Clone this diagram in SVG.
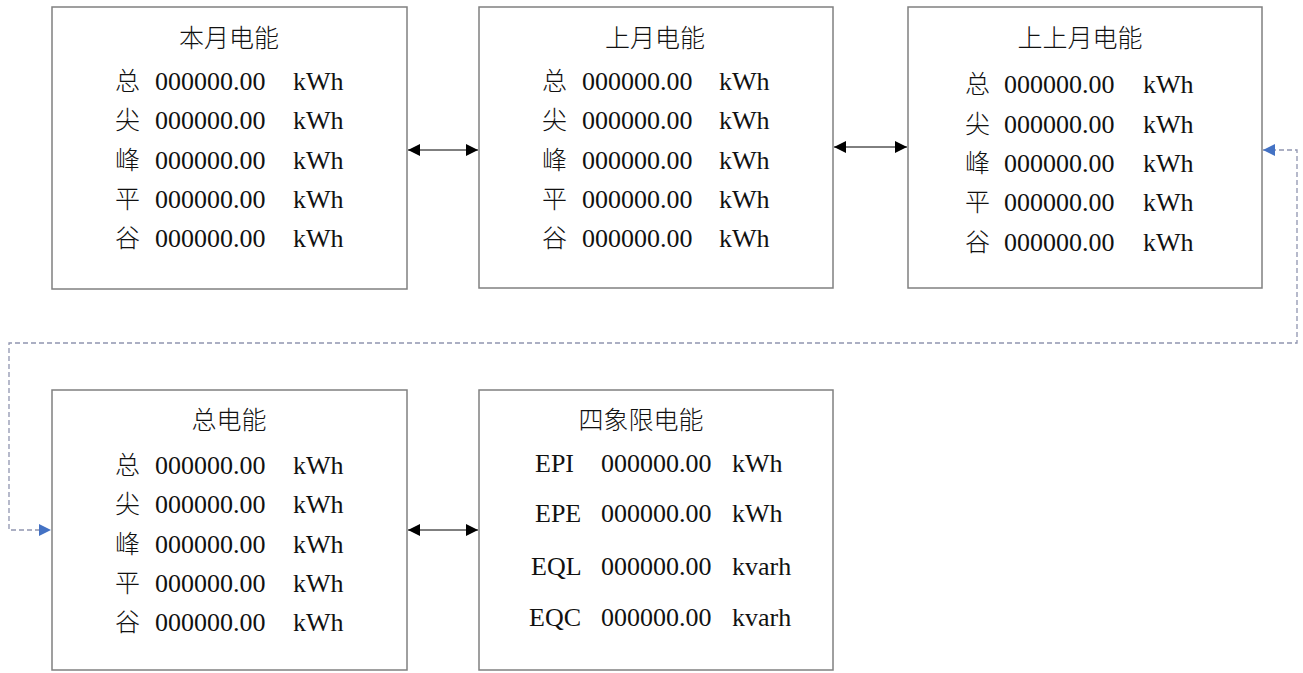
<svg xmlns="http://www.w3.org/2000/svg" width="1303" height="673" viewBox="0 0 1303 673">
<style>
.box{fill:#fff;stroke:#808080;stroke-width:1.5}
.t{font-family:"Liberation Serif","Noto Sans CJK SC",serif;font-size:26px;fill:#111}
.c{font-family:"Noto Sans CJK SC",serif;font-size:25px;font-weight:300;fill:#111}
.ct{font-family:"Noto Sans CJK SC",serif;font-size:25px;font-weight:300;fill:#111;text-anchor:middle}
.ln{fill:none;stroke:#000;stroke-width:1}
.dl{fill:none;stroke:#9095b0;stroke-width:1.3;stroke-dasharray:5,3}
</style>
<defs>
<marker id="ah" viewBox="0 0 12 12" refX="12" refY="6" markerWidth="12" markerHeight="12" markerUnits="userSpaceOnUse" orient="auto-start-reverse"><path d="M0,0 L12,6 L0,12 z" fill="#000"/></marker>
<marker id="bh" viewBox="0 0 12 12" refX="12" refY="6" markerWidth="12" markerHeight="12" markerUnits="userSpaceOnUse" orient="auto-start-reverse"><path d="M0,0 L12,6 L0,12 z" fill="#4472c4"/></marker>
</defs>
<g id="connectors">
<line class="ln" x1="408" y1="150" x2="478" y2="150" marker-start="url(#ah)" marker-end="url(#ah)"/>
<line class="ln" x1="834" y1="147" x2="907" y2="147" marker-start="url(#ah)" marker-end="url(#ah)"/>
<line class="ln" x1="408" y1="530" x2="478" y2="530" marker-start="url(#ah)" marker-end="url(#ah)"/>
<path class="dl" d="M1263,150 L1297,150 L1297,343 L9,343 L9,530 L51,530" marker-start="url(#bh)" marker-end="url(#bh)"/>
</g>
<g id="box1">
<rect class="box" x="52" y="7" width="355" height="282"/>
<text class="ct" x="229" y="47">本月电能</text>
<text class="c" x="115" y="90">总</text><text class="t" x="155" y="90">000000.00</text><text class="t" x="293" y="90">kWh</text>
<text class="c" x="115" y="129">尖</text><text class="t" x="155" y="129">000000.00</text><text class="t" x="293" y="129">kWh</text>
<text class="c" x="115" y="169">峰</text><text class="t" x="155" y="169">000000.00</text><text class="t" x="293" y="169">kWh</text>
<text class="c" x="115" y="208">平</text><text class="t" x="155" y="208">000000.00</text><text class="t" x="293" y="208">kWh</text>
<text class="c" x="115" y="247">谷</text><text class="t" x="155" y="247">000000.00</text><text class="t" x="293" y="247">kWh</text>
</g>
<g id="box2">
<rect class="box" x="479" y="7" width="354" height="281"/>
<text class="ct" x="655" y="47">上月电能</text>
<text class="c" x="542" y="90">总</text><text class="t" x="582" y="90">000000.00</text><text class="t" x="719" y="90">kWh</text>
<text class="c" x="542" y="129">尖</text><text class="t" x="582" y="129">000000.00</text><text class="t" x="719" y="129">kWh</text>
<text class="c" x="542" y="169">峰</text><text class="t" x="582" y="169">000000.00</text><text class="t" x="719" y="169">kWh</text>
<text class="c" x="542" y="208">平</text><text class="t" x="582" y="208">000000.00</text><text class="t" x="719" y="208">kWh</text>
<text class="c" x="542" y="247">谷</text><text class="t" x="582" y="247">000000.00</text><text class="t" x="719" y="247">kWh</text>
</g>
<g id="box3">
<rect class="box" x="908" y="7" width="354" height="281"/>
<text class="ct" x="1080" y="47">上上月电能</text>
<text class="c" x="965" y="93">总</text><text class="t" x="1004" y="93">000000.00</text><text class="t" x="1143" y="93">kWh</text>
<text class="c" x="965" y="133">尖</text><text class="t" x="1004" y="133">000000.00</text><text class="t" x="1143" y="133">kWh</text>
<text class="c" x="965" y="172">峰</text><text class="t" x="1004" y="172">000000.00</text><text class="t" x="1143" y="172">kWh</text>
<text class="c" x="965" y="211">平</text><text class="t" x="1004" y="211">000000.00</text><text class="t" x="1143" y="211">kWh</text>
<text class="c" x="965" y="251">谷</text><text class="t" x="1004" y="251">000000.00</text><text class="t" x="1143" y="251">kWh</text>
</g>
<g id="box4">
<rect class="box" x="52" y="390" width="355" height="280"/>
<text class="ct" x="229" y="429">总电能</text>
<text class="c" x="115" y="474">总</text><text class="t" x="155" y="474">000000.00</text><text class="t" x="293" y="474">kWh</text>
<text class="c" x="115" y="513">尖</text><text class="t" x="155" y="513">000000.00</text><text class="t" x="293" y="513">kWh</text>
<text class="c" x="115" y="553">峰</text><text class="t" x="155" y="553">000000.00</text><text class="t" x="293" y="553">kWh</text>
<text class="c" x="115" y="592">平</text><text class="t" x="155" y="592">000000.00</text><text class="t" x="293" y="592">kWh</text>
<text class="c" x="115" y="631">谷</text><text class="t" x="155" y="631">000000.00</text><text class="t" x="293" y="631">kWh</text>
</g>
<g id="box5">
<rect class="box" x="479" y="390" width="354" height="280"/>
<text class="ct" x="641" y="429">四象限电能</text>
<text class="t" x="535" y="472">EPI</text><text class="t" x="601" y="472">000000.00</text><text class="t" x="732" y="472">kWh</text>
<text class="t" x="535" y="522">EPE</text><text class="t" x="601" y="522">000000.00</text><text class="t" x="732" y="522">kWh</text>
<text class="t" x="531" y="575">EQL</text><text class="t" x="601" y="575">000000.00</text><text class="t" x="732" y="575">kvarh</text>
<text class="t" x="529" y="626">EQC</text><text class="t" x="601" y="626">000000.00</text><text class="t" x="732" y="626">kvarh</text>
</g>
</svg>
